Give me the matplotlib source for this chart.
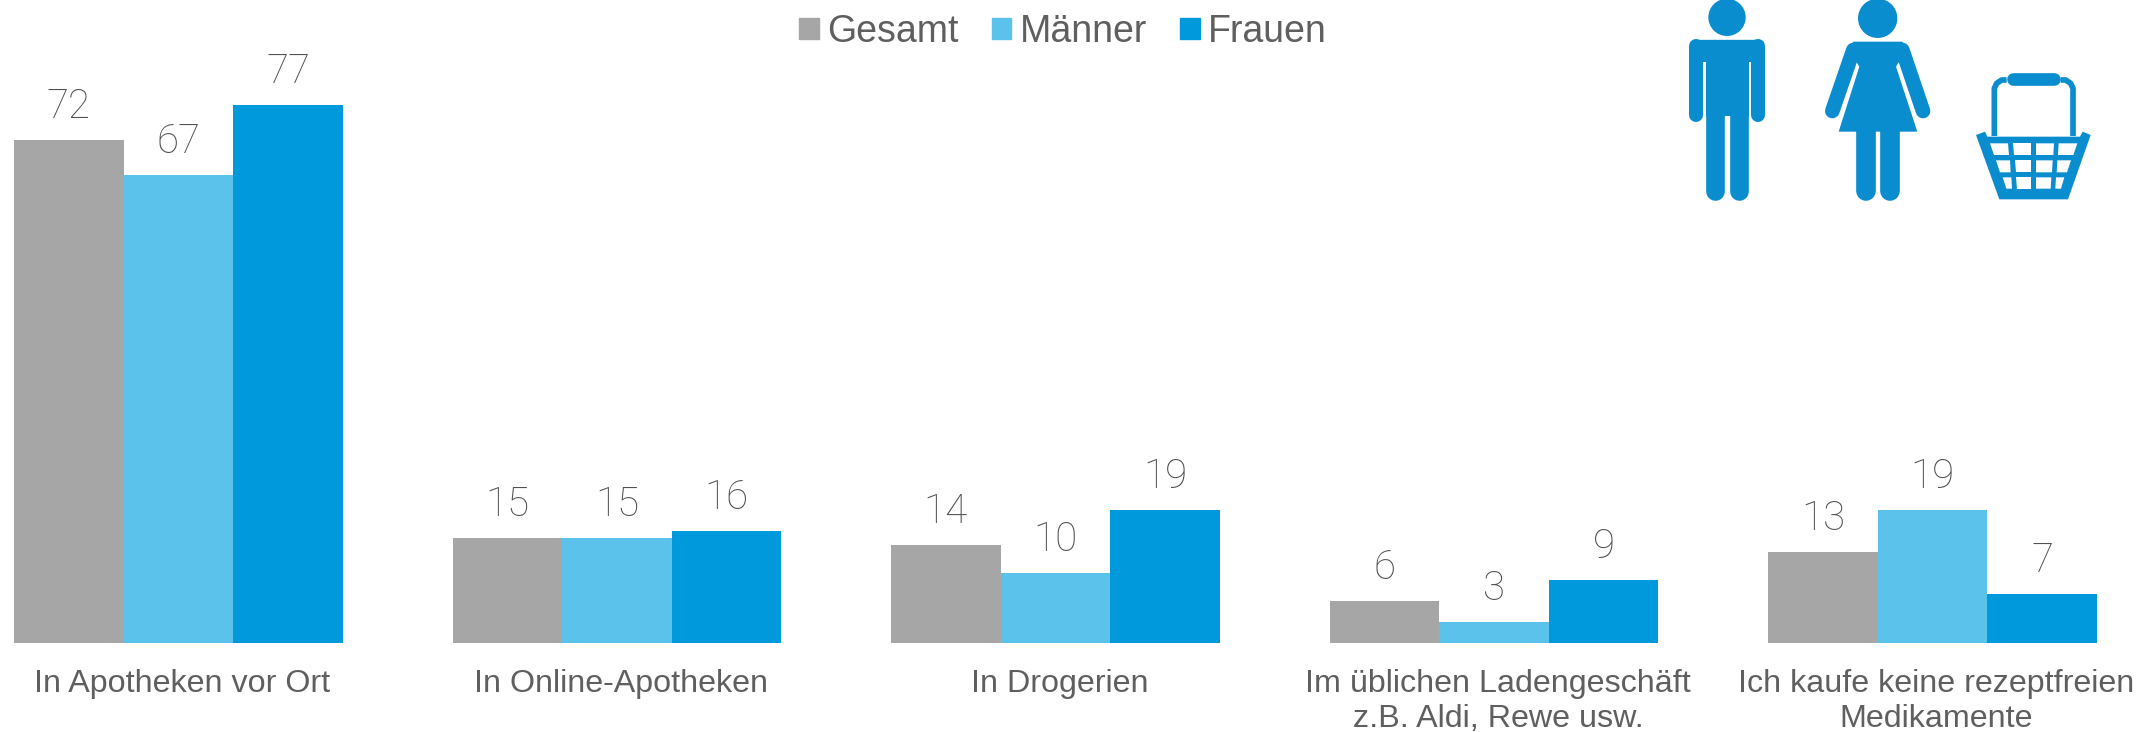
import matplotlib
matplotlib.use("Agg")
import numpy as np
import matplotlib.pyplot as plt
from matplotlib.patches import Circle, Patch, Polygon
from matplotlib.transforms import ScaledTranslation

categories = [
    "In Apotheken vor Ort",
    "In Online-Apotheken",
    "In Drogerien",
    "Im üblichen Ladengeschäft\nz.B. Aldi, Rewe usw.",
    "Ich kaufe keine rezeptfreien\nMedikamente",
]
gesamt = [72, 15, 14, 6, 13]
maenner = [67, 15, 10, 3, 19]
frauen = [77, 16, 19, 9, 7]

C_GESAMT = "#A6A6A6"
C_MAENNER = "#5BC2EB"
C_FRAUEN = "#0099DC"
C_TEXT = "#5F5F5F"
C_ICON = "#0A8DCF"

W, H = 2138, 732
fig = plt.figure(figsize=(W / 100, H / 100), dpi=100)

# main chart, axes placed in pixels of the reference
ax = fig.add_axes([14 / W, (H - 643) / H, 2083 / W, 643 / H])
x = np.arange(len(categories))
w = 0.25
b1 = ax.bar(x - w, gesamt, w, color=C_GESAMT)
b2 = ax.bar(x, maenner, w, color=C_MAENNER)
b3 = ax.bar(x + w, frauen, w, color=C_FRAUEN)
for b in (b1, b2, b3):
    ax.bar_label(b, padding=10, fontsize=29, color="#505050", family="Roboto", fontweight="light")

ax.set_xlim(-0.375, 4.375)
ax.set_ylim(0, 92)
ax.set_yticks([])
ax.set_xticks(x)
ax.set_xticklabels(categories, fontsize=23.2, color=C_TEXT, family="Liberation Sans", linespacing=1.22)
ax.tick_params(axis="x", length=0, pad=19)
# labels sit a little right of the bar groups
shift = ScaledTranslation(4 / 100, 0, fig.dpi_scale_trans)
for label in ax.get_xticklabels():
    label.set_transform(label.get_transform() + shift)
for s in ax.spines.values():
    s.set_visible(False)

handles = [Patch(color=C_GESAMT), Patch(color=C_MAENNER), Patch(color=C_FRAUEN)]
fig.legend(handles, ["Gesamt", "Männer", "Frauen"], loc="upper center",
           bbox_to_anchor=(1063 / W, 1.027), ncol=3, frameon=False,
           prop={"family": "Liberation Sans", "size": 27}, labelcolor=C_TEXT,
           handlelength=0.51, handleheight=0.51, handletextpad=0.22, columnspacing=0.9)

# icons, coordinates are in 3x crop units of the top right corner
ic = fig.add_axes([1640 / W, (H - 220) / H, 498 / W, 220 / H])
ic.set_xlim(0, 1494)
ic.set_ylim(660, 0)
ic.axis("off")


def stroke(xs, ys, width, cap="round"):
    ic.plot(xs, ys, color=C_ICON, lw=width / 3 * 0.72, solid_capstyle=cap, solid_joinstyle="round")


def poly(pts, color=C_ICON):
    ic.add_patch(Polygon(pts, closed=True, facecolor=color, edgecolor="none"))


# man
ic.add_patch(Circle((261, 52), 56, color=C_ICON, lw=0))
stroke([168, 168], [138, 344], 42)
stroke([354, 354], [138, 344], 42)
stroke([164, 358], [132, 132], 28)
poly([(198, 120), (326, 120), (326, 348), (198, 348)])
poly([(170, 120), (352, 120), (352, 187), (170, 187)])
stroke([226, 226], [340, 572], 56)
stroke([298, 298], [340, 572], 56)

# woman
ic.add_patch(Circle((713, 55), 59, color=C_ICON, lw=0))
stroke([640, 577], [150, 333], 44)
stroke([787, 849], [150, 333], 44)
poly([(640, 125), (787, 125), (800, 150), (768, 200), (832, 395), (596, 395), (658, 200), (627, 150)])
stroke([677, 677], [390, 574], 59)
stroke([750, 750], [390, 574], 59)

# basket
stroke([1120, 1242], [237, 237], 38)
stroke([1063, 1063, 1070, 1085, 1100], [408, 265, 250, 240, 240], 17, cap="butt")
stroke([1299, 1299, 1292, 1277, 1262], [408, 265, 250, 240, 240], 17, cap="butt")
poly([(1008, 405), (1035, 395), (1042, 410), (1320, 410), (1328, 395), (1352, 405), (1284, 598), (1078, 598)])
cells = [
    [(1050, 1104, 1062, 1107), (1120, 1172, 1122, 1172), (1188, 1242, 1188, 1240), (1256, 1312, 1254, 1300)],
    [(1068, 1110, 1080, 1112), (1125, 1172, 1127, 1172), (1188, 1238, 1188, 1236), (1252, 1293, 1250, 1281)],
    [(1088, 1114, 1099, 1116), (1128, 1172, 1130, 1172), (1188, 1234, 1188, 1232), (1248, 1273, 1246, 1263)],
]
rows = [(430, 465), (481, 517), (532, 566)]
for (top, bot), row in zip(rows, cells):
    for a, b, c, d in row:
        poly([(a, top), (b, top), (d, bot), (c, bot)], color="white")

fig.savefig("out.png", dpi=100)
